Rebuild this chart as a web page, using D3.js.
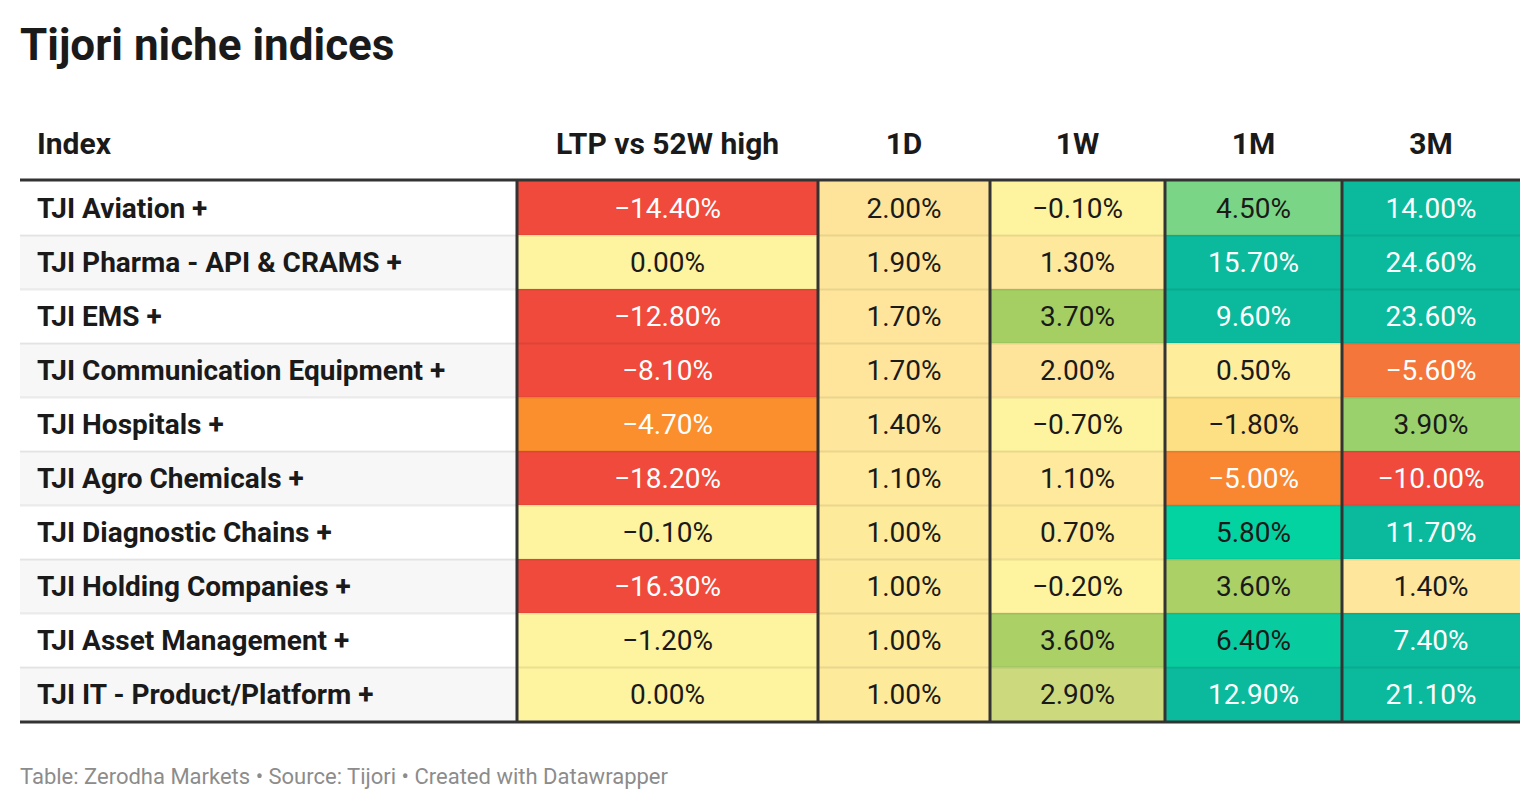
<!DOCTYPE html>
<html>
<head>
<meta charset="utf-8">
<script src="https://cdn.jsdelivr.net/npm/d3@7"></script>
<style>
  body { margin: 0; background: #fff; }
  svg { display: block; font-family: Roboto, "Noto Sans", sans-serif; }
</style>
</head>
<body>
<script>
// data
var indices = [
  "TJI Aviation +",
  "TJI Pharma - API & CRAMS +",
  "TJI EMS +",
  "TJI Communication Equipment +",
  "TJI Hospitals +",
  "TJI Agro Chemicals +",
  "TJI Diagnostic Chains +",
  "TJI Holding Companies +",
  "TJI Asset Management +",
  "TJI IT - Product/Platform +"
];
var columns = ["LTP vs 52W high", "1D", "1W", "1M", "3M"];
var ltp = [-14.4, 0.0, -12.8, -8.1, -4.7, -18.2, -0.1, -16.3, -1.2, 0.0];
var d1  = [2.0, 1.9, 1.7, 1.7, 1.4, 1.1, 1.0, 1.0, 1.0, 1.0];
var w1  = [-0.1, 1.3, 3.7, 2.0, -0.7, 1.1, 0.7, -0.2, 3.6, 2.9];
var m1  = [4.5, 15.7, 9.6, 0.5, -1.8, -5.0, 5.8, 3.6, 6.4, 12.9];
var m3  = [14.0, 24.6, 23.6, -5.6, 3.9, -10.0, 11.7, 1.4, 7.4, 21.1];
var series = [ltp, d1, w1, m1, m3];

var title = "Tijori niche indices";
var footer = "Table: Zerodha Markets \u2022 Source: Tijori \u2022 Created with Datawrapper";

// layout
var W = 1540, H = 810,
	left = 20, right = 1520,
	tableTop = 181, rowH = 54,
	firstColW = 497,
	colW = [301, 172, 175, 177, 178];

var color = d3.scaleLinear()
	.domain([-20, -7, -5.6, -4.7, -2.5, -1.8, -1.2, 0, 0.6, 1.5, 2.1, 2.9, 3.7, 4.5, 5.8, 6.6, 7.4, 30])
	.range(["#f04a3c", "#f04a3c", "#f5763a", "#fb8e2d", "#fdd27c", "#fddf84", "#fef39e", "#fef39e",
		"#feed9b", "#fee69c", "#fde49a", "#cdd97d", "#a5cf63", "#7ad686", "#03d3a1", "#09c9a0", "#0bba9c", "#0bba9c"])
	.clamp(true);

function fmt(v){
	return d3.format(".2f")(v).replace("-", "\u2212") + "%";
}

var svg = d3.select("body").append("svg")
	.attr("width", W)
	.attr("height", H);

svg.append("text")
	.attr("x", left)
	.attr("y", 60)
	.attr("font-size", 44)
	.attr("font-weight", 700)
	.attr("fill", "#1a1a1a")
	.text(title);

var y = d3.scaleBand()
	.domain(d3.range(indices.length))
	.range([tableTop, tableTop + rowH * indices.length]);

var colX = [left + firstColW];
colW.forEach((w, i) => { if (i > 0) colX.push(colX[i - 1] + colW[i - 1]); });
var x = d3.scaleOrdinal().domain(columns).range(colX);

// header
svg.append("text")
	.attr("x", left + 17)
	.attr("y", 154)
	.attr("font-size", 30)
	.attr("font-weight", 700)
	.attr("fill", "#1a1a1a")
	.text("Index");

svg.selectAll("text.head")
	.data(columns)
	.enter()
	.append("text")
	.attr("class", "head")
	.attr("x", (d, i) => x(d) + colW[i] / 2)
	.attr("y", 154)
	.attr("text-anchor", "middle")
	.attr("font-size", 30)
	.attr("font-weight", 700)
	.attr("fill", "#1a1a1a")
	.text(d => d);

// index column rows
var rows = svg.selectAll("g.row")
	.data(indices)
	.enter()
	.append("g")
	.attr("class", "row")
	.attr("transform", (d, i) => "translate(0," + y(i) + ")");

rows.append("rect")
	.attr("x", left)
	.attr("width", firstColW)
	.attr("height", rowH)
	.attr("fill", (d, i) => i % 2 ? "#f7f7f7" : "#ffffff");

rows.append("text")
	.attr("x", left + 17)
	.attr("y", rowH / 2 + 10)
	.attr("font-size", 28)
	.attr("font-weight", 700)
	.attr("fill", "#1a1a1a")
	.text(d => d);

// coloured cells
columns.forEach((c, ci) => {
	var g = svg.append("g");
	g.selectAll("rect")
		.data(series[ci])
		.enter()
		.append("rect")
		.attr("x", x(c))
		.attr("y", (d, i) => y(i))
		.attr("width", colW[ci])
		.attr("height", rowH)
		.attr("fill", d => color(d));
	g.selectAll("text")
		.data(series[ci])
		.enter()
		.append("text")
		.attr("x", x(c) + colW[ci] / 2)
		.attr("y", (d, i) => y(i) + rowH / 2 + 10)
		.attr("text-anchor", "middle")
		.attr("font-size", 28)
		.attr("fill", d => (d < -3 || d > 7) ? "#ffffff" : "#1a1a1a")
		.text(d => fmt(d));
});

// row separators
svg.selectAll("line.sep")
	.data(d3.range(1, indices.length))
	.enter()
	.append("line")
	.attr("x1", left)
	.attr("x2", right)
	.attr("y1", d => y(d) + 0.5)
	.attr("y2", d => y(d) + 0.5)
	.attr("stroke", "#000")
	.attr("stroke-opacity", 0.08)
	.attr("stroke-width", 2);

// column borders
svg.selectAll("line.vb")
	.data(columns)
	.enter()
	.append("line")
	.attr("x1", d => x(d))
	.attr("x2", d => x(d))
	.attr("y1", tableTop)
	.attr("y2", tableTop + rowH * indices.length)
	.attr("stroke", "#333")
	.attr("stroke-width", 3);

// top and bottom rules
[tableTop - 1, tableTop + rowH * indices.length + 1].forEach(yy => {
	svg.append("line")
		.attr("x1", left)
		.attr("x2", right)
		.attr("y1", yy)
		.attr("y2", yy)
		.attr("stroke", "#333")
		.attr("stroke-width", 3);
});

svg.append("text")
	.attr("x", left)
	.attr("y", 784)
	.attr("font-size", 22)
	.attr("fill", "#8c8c8c")
	.text(footer);
</script>
</body>
</html>
